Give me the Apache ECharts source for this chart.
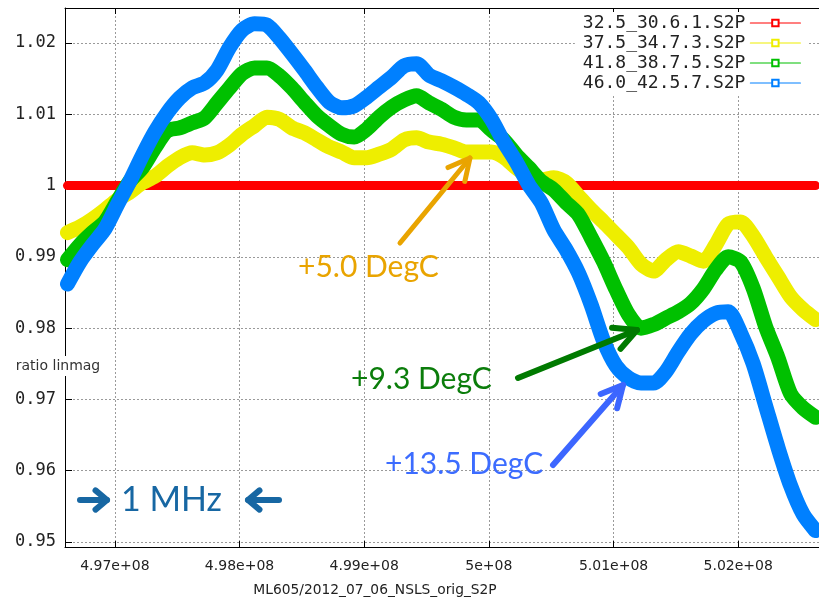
<!DOCTYPE html>
<html>
<head>
<meta charset="utf-8">
<title>ratio linmag</title>
<script src="https://cdn.jsdelivr.net/npm/echarts@6/dist/echarts.min.js"></script>
<style>
  html, body { margin: 0; padding: 0; background: #fff; }
  #chart { width: 819px; height: 605px; }
</style>
</head>
<body>
<div id="chart"></div>
<script>
// Frequency sweep points (MHz)
const freqMHz = [
  496.62, 496.72, 496.82, 496.92, 497.02, 497.12, 497.22, 497.32, 497.42, 497.52,
  497.62, 497.72, 497.82, 497.92, 498.02, 498.12, 498.22, 498.32, 498.42, 498.52,
  498.62, 498.72, 498.82, 498.92, 499.02, 499.12, 499.22, 499.32, 499.42, 499.52,
  499.62, 499.72, 499.82, 499.92, 500.02, 500.12, 500.22, 500.32, 500.42, 500.52,
  500.62, 500.72, 500.82, 500.92, 501.02, 501.12, 501.22, 501.32, 501.42, 501.52,
  501.62, 501.72, 501.82, 501.92, 502.02, 502.12, 502.22, 502.32, 502.42, 502.52,
  502.62
];

// Series names (S2P files)
const seriesNames = ['32.5_30.6.1.S2P', '37.5_34.7.3.S2P', '41.8_38.7.5.S2P', '46.0_42.5.7.S2P'];

// Reference measurement ratioed against itself
const ratioRef = [
  1, 1, 1, 1, 1, 1, 1, 1, 1, 1,
  1, 1, 1, 1, 1, 1, 1, 1, 1, 1,
  1, 1, 1, 1, 1, 1, 1, 1, 1, 1,
  1, 1, 1, 1, 1, 1, 1, 1, 1, 1,
  1, 1, 1, 1, 1, 1, 1, 1, 1, 1,
  1, 1, 1, 1, 1, 1, 1, 1, 1, 1,
  1
];

// +5.0 DegC
const ratioPlus5 = [
  0.9934, 0.9942, 0.9953, 0.9966, 0.9980, 0.9991, 1.0004, 1.0013, 1.0027, 1.0039,
  1.0046, 1.0043, 1.0046, 1.0057, 1.0072, 1.0084, 1.0096, 1.0093, 1.0081, 1.0074,
  1.0064, 1.0054, 1.0047, 1.0039, 1.0039, 1.0044, 1.0051, 1.0064, 1.0067, 1.0061,
  1.0058, 1.0053, 1.0047, 1.0047, 1.0047, 1.0040, 1.0025, 1.0013, 1.0008, 1.0011,
  1.0004, 0.9985, 0.9966, 0.9949, 0.9931, 0.9913, 0.9890, 0.9880, 0.9896, 0.9907,
  0.9901, 0.9894, 0.9917, 0.9946, 0.9949, 0.9929, 0.9900, 0.9872, 0.9844, 0.9826,
  0.9812
];

// +9.3 DegC
const ratioPlus9 = [
  0.9896, 0.9917, 0.9934, 0.9949, 0.9978, 1.0006, 1.0025, 1.0053, 1.0077, 1.0081,
  1.0088, 1.0095, 1.0116, 1.0137, 1.0157, 1.0165, 1.0165, 1.0154, 1.0137, 1.0117,
  1.0098, 1.0084, 1.0072, 1.0068, 1.0079, 1.0096, 1.0110, 1.0120, 1.0126, 1.0116,
  1.0107, 1.0096, 1.0092, 1.0092, 1.0078, 1.0064, 1.0043, 1.0025, 1.0006, 0.9994,
  0.9976, 0.9959, 0.9927, 0.9893, 0.9854, 0.9819, 0.9800, 0.9805, 0.9814, 0.9823,
  0.9835, 0.9855, 0.9882, 0.9900, 0.9893, 0.9856, 0.9802, 0.9758, 0.9708, 0.9688,
  0.9675
];

// +13.5 DegC
const ratioPlus13 = [
  0.9862, 0.9893, 0.9917, 0.9939, 0.9973, 1.0006, 1.0042, 1.0075, 1.0102, 1.0123,
  1.0137, 1.0144, 1.0162, 1.0194, 1.0218, 1.0227, 1.0225, 1.0207, 1.0185, 1.0162,
  1.0138, 1.0117, 1.0109, 1.0112, 1.0124, 1.0138, 1.0152, 1.0168, 1.0171, 1.0155,
  1.0147, 1.0138, 1.0128, 1.0116, 1.0093, 1.0061, 1.0033, 1.0001, 0.9976, 0.9938,
  0.9910, 0.9877, 0.9833, 0.9782, 0.9747, 0.9730, 0.9723, 0.9723, 0.9739, 0.9767,
  0.9792, 0.9810, 0.9821, 0.9823, 0.9793, 0.9750, 0.9691, 0.9632, 0.9579, 0.9539,
  0.9516
];

// Axis tick labels (gnuplot style)
const xTickValuesHz = [497e6, 498e6, 499e6, 500e6, 501e6, 502e6];
const xTickLabels = ['4.97e+08', '4.98e+08', '4.99e+08', '5e+08', '5.01e+08', '5.02e+08'];
const yTickLabels = ['0.95', '0.96', '0.97', '0.98', '0.99', '1', '1.01', '1.02'];

const seriesValues = [ratioRef, ratioPlus5, ratioPlus9, ratioPlus13];
const seriesColors = ['#ff0000', '#eeee00', '#00c000', '#0080ff'];
const seriesWidths = [9, 15, 15, 15];

const chart = echarts.init(document.getElementById('chart'), null, { renderer: 'canvas' });

const gridStyle = { color: '#9a9a9a', width: 1, type: [2, 2] };

function xLabel(v) {
  const i = xTickValuesHz.findIndex(t => Math.abs(t - v) < 1);
  return i >= 0 ? xTickLabels[i] : '';
}
function yLabel(v) {
  const i = Math.round(v * 100) - 95;
  return yTickLabels[i] !== undefined ? yTickLabels[i] : '';
}

// Arrow made of a shaft plus an open chevron head
function arrow(tail, tip, color, width, headLen, headDeg) {
  const dx = tail[0] - tip[0], dy = tail[1] - tip[1];
  const len = Math.hypot(dx, dy);
  const ux = dx / len, uy = dy / len;
  const a = headDeg * Math.PI / 180;
  const rot = (s) => [
    tip[0] + headLen * (ux * Math.cos(s) - uy * Math.sin(s)),
    tip[1] + headLen * (ux * Math.sin(s) + uy * Math.cos(s))
  ];
  const style = { stroke: color, lineWidth: width, lineCap: 'round', lineJoin: 'round', fill: null };
  return [
    { type: 'line', z: 100, shape: { x1: tail[0], y1: tail[1], x2: tip[0], y2: tip[1] }, style: style },
    { type: 'polyline', z: 100, shape: { points: [rot(a), tip, rot(-a)] }, style: Object.assign({}, style) }
  ];
}

function label(text, x, y, color, size) {
  return {
    type: 'text', z: 100, x: x, y: y,
    style: { text: text, fill: color, font: size + 'px Lato, "Open Sans", sans-serif',
             textAlign: 'left', textVerticalAlign: 'middle' }
  };
}

const graphics = [].concat(
  arrow([400, 243], [470, 158], '#e9a400', 5, 24, 27),
  arrow([518, 378], [637, 330], '#007a00', 6, 25, 27),
  arrow([553, 465], [623, 385], '#3c66ff', 6, 24, 27),
  arrow([80, 500], [107, 500], '#1767a3', 6, 15, 40),
  arrow([279, 500], [248, 500], '#1767a3', 6, 15, 40),
  [
    label('+5.0 DegC', 298, 267, '#e9a400', 30),
    label('+9.3 DegC', 351, 379, '#0b7d0b', 30),
    label('+13.5 DegC', 385, 464, '#3c6cff', 30),
    label('1 MHz', 121, 500, '#1767a3', 34),
    {
      type: 'text', z: 100, x: 58, y: 366,
      style: { text: 'ratio linmag', fill: '#333', font: '14px "DejaVu Sans", sans-serif',
               textAlign: 'center', textVerticalAlign: 'middle',
               backgroundColor: '#fff', padding: [3, 2] }
    },
    {
      type: 'text', z: 100, x: 375, y: 590,
      style: { text: 'ML605/2012_07_06_NSLS_orig_S2P', fill: '#222',
               font: '13.8px "DejaVu Sans", sans-serif', textAlign: 'center', textVerticalAlign: 'middle' }
    }
  ]
);

const option = {
  animation: false,
  backgroundColor: '#fff',
  grid: { left: 65, top: 8, right: -2, bottom: 58, containLabel: false },
  legend: {
    orient: 'vertical',
    right: 10, top: 12,
    align: 'right',
    itemWidth: 50, itemHeight: 8, itemGap: 2,
    padding: [2, 8, 2, 8],
    backgroundColor: '#fff',
    data: seriesNames,
    lineStyle: { width: 1.2 },
    textStyle: { fontFamily: '"DejaVu Sans Mono", monospace', fontSize: 18, color: '#222', lineHeight: 18 },
    selectedMode: false
  },
  xAxis: [
    {
      type: 'value', position: 'bottom',
      min: 496.6e6, max: 502.648e6,
      minInterval: 1e6, maxInterval: 1e6,
      axisLine: { show: true, onZero: false, lineStyle: { color: '#000', width: 1 } },
      axisTick: { show: true, inside: true, length: 6, lineStyle: { color: '#000' } },
      axisLabel: { show: true, margin: 12, formatter: xLabel, showMinLabel: false, showMaxLabel: false,
                   color: '#222', fontSize: 14, fontFamily: '"DejaVu Sans", sans-serif' },
      splitLine: { show: true, lineStyle: gridStyle }
    },
    {
      type: 'value', position: 'top',
      min: 496.6e6, max: 502.648e6,
      minInterval: 1e6, maxInterval: 1e6,
      axisLine: { show: true, onZero: false, lineStyle: { color: '#000', width: 1 } },
      axisTick: { show: true, inside: true, length: 6, lineStyle: { color: '#000' } },
      axisLabel: { show: false },
      splitLine: { show: false }
    }
  ],
  yAxis: {
    type: 'value',
    min: 0.9493, max: 1.02491,
    minInterval: 0.01, maxInterval: 0.01,
    axisLine: { show: true, onZero: false, lineStyle: { color: '#000', width: 1 } },
    axisTick: { show: true, inside: true, length: 7, lineStyle: { color: '#000' } },
    axisLabel: { show: true, margin: 9, formatter: yLabel, showMinLabel: false, showMaxLabel: false,
                 color: '#222', fontSize: 17, fontFamily: '"DejaVu Sans Mono", monospace' },
    splitLine: { show: true, lineStyle: gridStyle }
  },
  series: seriesNames.map((name, s) => ({
    name: name,
    type: 'line',
    xAxisIndex: 0,
    data: freqMHz.map((f, i) => [f * 1e6, seriesValues[s][i]]),
    symbol: 'emptyRect',
    symbolSize: 6,
    showSymbol: false,
    smooth: 0.25,
    color: seriesColors[s],
    lineStyle: { color: seriesColors[s], width: seriesWidths[s], cap: 'round', join: 'round' },
    emphasis: { disabled: true },
    z: 2 + s
  })),
  graphic: graphics
};

chart.setOption(option);
</script>
</body>
</html>
